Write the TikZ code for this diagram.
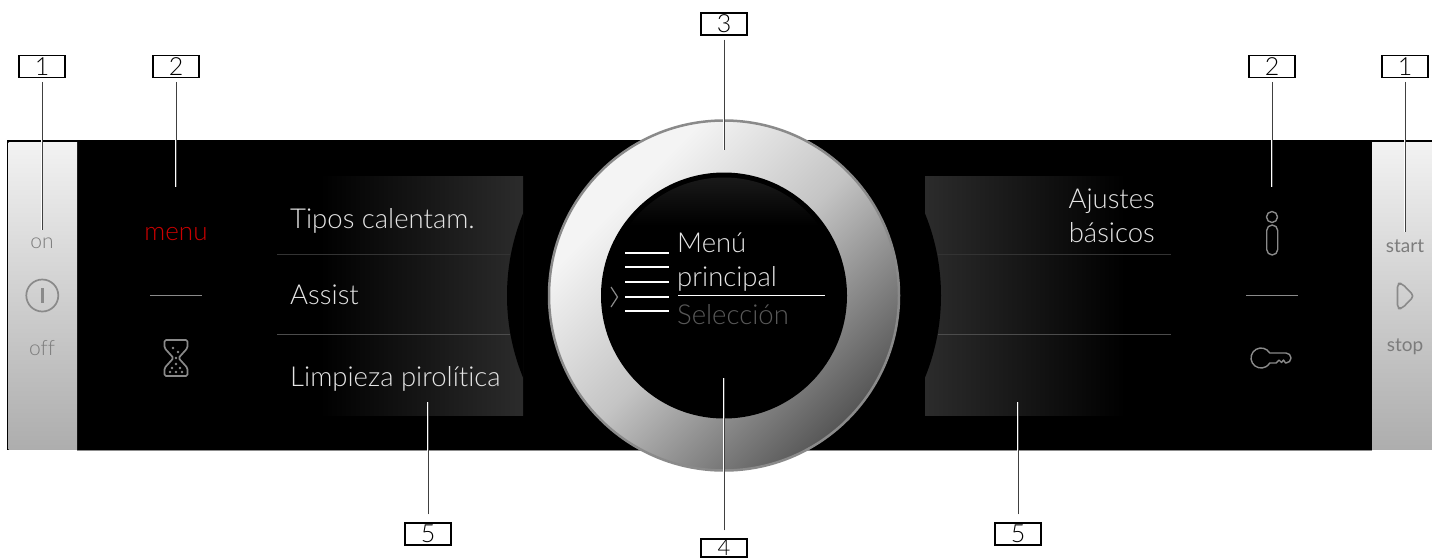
\documentclass[tikz,border=0pt]{standalone}
\usepackage{fontspec}
\setmainfont[UprightFont=* Light,Ligatures=NoCommon]{Lato}
\newfontfamily\keyfont[Ligatures=NoCommon]{Lato}
\definecolor{ledgray}{HTML}{8A8A8A}
\definecolor{keygray}{HTML}{7C7C7C}
\definecolor{dialdark}{HTML}{565656}
\definecolor{dialmid}{HTML}{C4C4C4}
\definecolor{diallight}{HTML}{F4F4F4}
\pgfdeclareverticalshading{dialshade}{100bp}{color(0bp)=(dialdark); color(25bp)=(dialdark); color(50bp)=(dialmid); color(70bp)=(diallight); color(100bp)=(diallight)}
\tikzset{
  callout/.style={draw=black,line width=1.2pt,fill=white,minimum width=46,minimum height=22,inner sep=0pt,font=\fontsize{25}{25}\selectfont},
  leader/.style={draw=white,double=black!75,double distance=0.7,line width=0.4,shorten <=4},
  rule/.style={draw=white!30!black,line width=1pt},
  menutext/.style={text=white!90!black,anchor=base west,inner sep=0pt,font=\fontsize{27.5}{30}\selectfont},
  keytext/.style={text=keygray,anchor=base,inner sep=0pt,font=\fontsize{21}{21}\selectfont},
  icon/.style={draw=ledgray,line width=1.4pt,line join=round},
  tick/.style={draw=white,line width=2.3pt}
}
\begin{document}
\begin{tikzpicture}[x=1pt,y=-1pt]
  \useasboundingbox (0,0) rectangle (1432,558);
  % panel
  \fill[black] (7,140) rectangle (1432,450);
  \shade[top color=white!95!black,bottom color=white!68!black] (8.5,142) rectangle (77,449);
  \shade[top color=white!95!black,bottom color=white!68!black] (1372,142) rectangle (1432,449);
  \coordinate (ea) at (77,450.5);
  \coordinate (eb) at (1372,450.5);
  \draw[draw=black!45,line width=1pt] (ea) -- (eb);
  % menu fields
  \begin{scope}
    \clip (277,176) rectangle (523,415);
    \path[left color=black,right color=white!17!black] (320,176) rectangle (523,415);
    \fill[black] (724,295.5) circle (217);
  \end{scope}
  \begin{scope}
    \clip (925,176) rectangle (1171,415);
    \path[left color=white!17!black,right color=black] (925,176) rectangle (1125,415);
    \fill[black] (724,295.5) circle (217);
  \end{scope}
  \coordinate (la) at (277,254.5);
  \coordinate (lb) at (510,254.5);
  \coordinate (lc) at (277,334);
  \coordinate (ld) at (510,334);
  \coordinate (ra) at (938,254.5);
  \coordinate (rb) at (1171,254.5);
  \coordinate (rc) at (938,334);
  \coordinate (rd) at (1171,334);
  \draw[rule,draw=white!20!black] (la) -- (lb);
  \draw[rule] (lc) -- (ld);
  \draw[rule,draw=white!20!black] (ra) -- (rb);
  \draw[rule] (rc) -- (rd);
  % dial
  \shade[shading=dialshade,shading angle=45] (724,295.5) circle (175);
  \draw[draw=ledgray,line width=2.5pt] (724,295.5) circle (175);
  \fill[black] (724,295.5) circle (123);
  \begin{scope}
    \clip (724,295.5) circle (118);
    \path[top color=white!10!black,bottom color=black] (600,177) rectangle (848,225);
  \end{scope}
  \foreach \y in {253.3,267.3,282,296.7,310.7}
    \draw[tick] (625,\y) -- (669,\y);
  \draw[draw=ledgray,line width=1.2pt] (611,287) -- (617.5,297) -- (611,307);
  \node[menutext] (menua) at (677,252) {Menú};
  \node[menutext] (menub) at (677,286) {principal};
  \node[menutext,text=white!35!black] (menuc) at (677,324) {Selección};
  \coordinate (ua) at (678,295.5);
  \coordinate (ub) at (825,295.5);
  \draw[draw=white,line width=1pt] (ua) -- (ub);
  % texts
  \node[menutext] (tipos) at (290,228) {Tipos calentam.};
  \node[menutext] (assist) at (290,304) {Assist};
  \node[menutext] (limpieza) at (290,386) {Limpieza pirolítica};
  \node[menutext,anchor=base east] (ajustes) at (1155,208) {Ajustes};
  \node[menutext,anchor=base east] (basicos) at (1155,242) {básicos};
  \node[keytext,text=red!80!black,font=\fontsize{26}{26}\selectfont] (menu) at (176,240) {menu};
  \node[keytext] (on) at (42,248) {on};
  \node[keytext] (off) at (42,355) {off};
  \node[keytext,font=\keyfont\fontsize{19}{19}\selectfont] (start) at (1405,252.5) {start};
  \node[keytext,font=\keyfont\fontsize{19}{19}\selectfont] (stop) at (1405,351) {stop};
  % separators
  \coordinate (sa) at (150,295.5);
  \coordinate (sb) at (202,295.5);
  \coordinate (sc) at (1246,295.5);
  \coordinate (sd) at (1298,295.5);
  \draw[draw=ledgray,line width=1pt] (sa) -- (sb);
  \draw[draw=ledgray,line width=1pt] (sc) -- (sd);
  % icons
  \draw[icon,line width=1.7pt] (42.3,295.5) circle (16);
  \draw[icon,line width=2.4pt] (42.3,288) -- (42.3,303);
  \draw[icon,line width=1.7pt,rounded corners=1.5pt] (164.5,340) -- (187.5,340) -- (187.5,348) -- (178.5,358) -- (187.5,368) -- (187.5,376) -- (164.5,376) -- (164.5,368) -- (173.5,358) -- (164.5,348) -- cycle;
  \foreach \px/\py in {173/348,178/352,176/358,176/364,172/368,180/368,170/372,176/372,182/372}
    \fill[ledgray] (\px,\py) circle (1.4);
  \draw[icon] (1272,217) circle (5.5);
  \draw[icon] (1266.7,230.5) arc (180:360:5.5) -- (1277.7,249.5) arc (0:180:5.5) -- cycle;
  \draw[icon] (1269.7,353) arc (-30:-330:10) -- (1276,363) -- (1279,360) -- (1281.5,362.5) -- (1283.5,360) -- (1285.5,363) -- (1286,363) arc (90:-90:5) -- cycle;
  \draw[icon,line width=1.6pt,rounded corners=3.5pt] (1397.5,283.5) -- (1397.5,308.5) -- (1402,308.5) -- (1414,296) -- (1402,283.5) -- cycle;
  % callouts
  \node[callout] (onea) at (42,66.3) {1};
  \node[callout] (twoa) at (176,66.3) {2};
  \node[callout] (three) at (724,24) {3};
  \node[callout] (twob) at (1272,66.3) {2};
  \node[callout] (oneb) at (1405,66.3) {1};
  \node[callout] (fivea) at (428,534) {5};
  \node[callout,minimum height=18,font=\fontsize{22}{22}\selectfont] (four) at (724,548) {4};
  \node[callout] (fiveb) at (1018,534) {5};
  \coordinate (tonea) at (42,230);
  \coordinate (ttwoa) at (176,187);
  \coordinate (tthree) at (724,149.5);
  \coordinate (ttwob) at (1272,187);
  \coordinate (toneb) at (1405,232);
  \coordinate (tfivea) at (428,402);
  \coordinate (tfour) at (724,378);
  \coordinate (tfiveb) at (1018,402);
  \draw[leader] (onea) -- (tonea);
  \draw[leader] (twoa) -- (ttwoa);
  \draw[leader] (three) -- (tthree);
  \draw[leader] (twob) -- (ttwob);
  \draw[leader] (oneb) -- (toneb);
  \draw[leader,shorten <=8] (fivea) -- (tfivea);
  \draw[leader,shorten <=8] (four) -- (tfour);
  \draw[leader,shorten <=8] (fiveb) -- (tfiveb);
\end{tikzpicture}
\end{document}
